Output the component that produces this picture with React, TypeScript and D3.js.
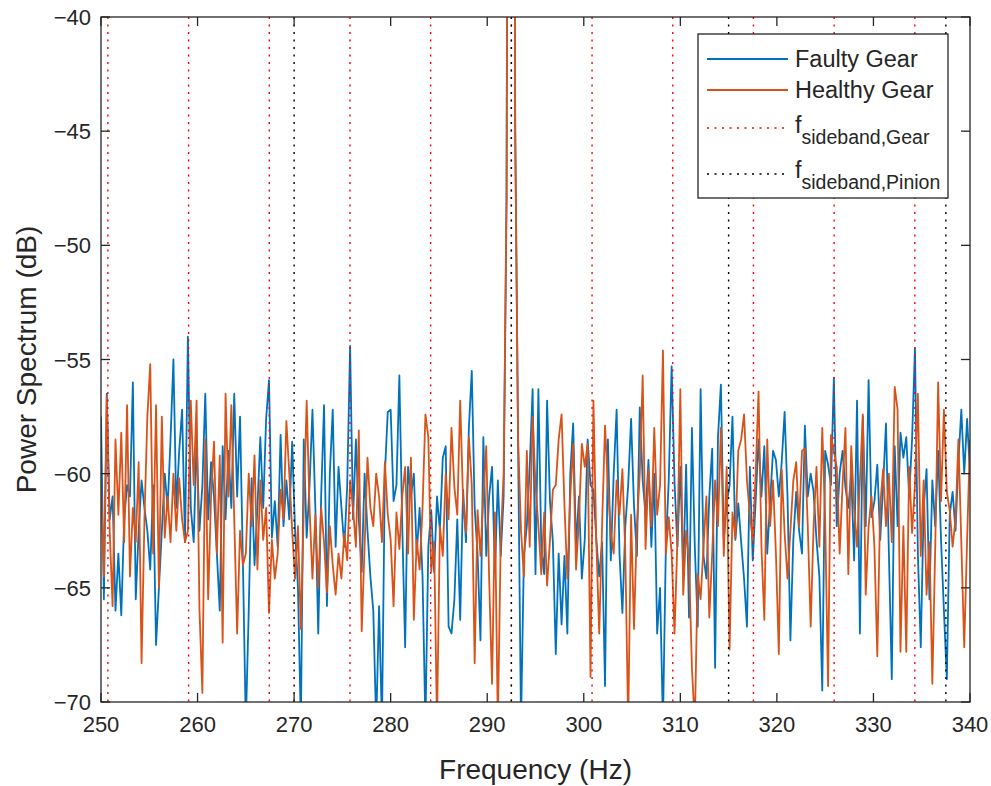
import React from 'react';
import * as d3 from 'd3';

const F_START = 250;
const F_STEP = 0.3;

const faultyGear = [
  -57.5, -65.5, -56.5, -62, -61, -66.0, -63.5, -66.2, -62, -60.5,
  -61, -56.0, -65.5, -62.5, -60.3, -61.5, -62.5, -64.2, -60.5, -67.5,
  -65.0, -62.5, -60.0, -61.5, -58.5, -55.0, -61.5, -59.0, -57.2, -63.0,
  -54.0, -61.5, -63, -58.5, -62.5, -60.5, -56.5, -62.0, -59.5, -61.0,
  -63.5, -66.0, -58.8, -62.0, -59.0, -61.5, -56.5, -61.0, -57.5, -64.0,
  -71.0, -66.0, -60.2, -64.0, -61.5, -58.4, -61.5, -57.6, -55.9, -62.8,
  -61.2, -63.2, -58.3, -62.3, -60.3, -62.0, -58.6, -62.5, -65.0, -71.0,
  -58.5, -62.8, -60.5, -57.2, -61.5, -67.0, -61.0, -57.0, -65.8, -60.0,
  -57.2, -63.2, -59.7, -61.5, -63.2, -60.5, -54.4, -62.0, -58.5, -62.0,
  -64.3, -60.0, -62.5, -64.5, -66.0, -71.0, -65.8, -71.0, -60.0, -57.3,
  -57.2, -61.2, -60.5, -55.7, -62.3, -67.6, -59.7, -61.0, -60.0, -63.5,
  -61.5, -64.5, -71.0, -63.2, -61.6, -64.3, -61.0, -62.5, -59.3, -58.8,
  -66.7, -67.0, -65.5, -62.0, -66.4, -60.7, -63.0, -58.0, -55.5, -61.5,
  -63.5, -67.3, -58.4, -63.6, -61.0, -59.7, -64.3, -60.3, -63.6, -61.0,
  -48, 0, 0, -45, -58.9, -71.0, -63.6, -62.3, -59.7, -56.3,
  -64.4, -56.3, -63.2, -64.4, -56.8, -61.2, -63.0, -67.9, -63.5, -66.6,
  -63.6, -67.0, -60.0, -57.8, -63.2, -61.0, -64.6, -62.9, -58.5, -60.5,
  -60.7, -62.9, -64.5, -63.0, -69.3, -58.5, -63.8, -60.0, -57.2, -63.5,
  -66.1, -62.3, -60.5, -57.6, -61.4, -63.6, -57.1, -60.3, -61.8, -59.4,
  -63.2, -60.0, -67.0, -65.0, -71.0, -63.2, -60.3, -55.3, -60.4, -63.2,
  -59.7, -64.4, -59.6, -66.3, -58.0, -63.2, -66.7, -56.3, -63.6, -64.6,
  -61.0, -58.9, -68.5, -58.4, -56.1, -62.9, -61.3, -60.5, -57.5, -62.9,
  -61.3, -63.0, -64.6, -66.7, -59.7, -63.8, -61.2, -58.5, -61.0, -58.8,
  -63.5, -61.2, -59.0, -59.4, -61.0, -59.5, -57.3, -61.0, -67.3, -62.9,
  -60.8, -62.5, -63.5, -57.9, -61.0, -60.0, -60.8, -62.9, -64.5, -69.5,
  -59.0, -59.6, -60.5, -55.8, -62.3, -60.0, -59.0, -60.6, -61.5, -60.0,
  -63.8, -56.8, -67.0, -57.5, -62.3, -55.9, -61.9, -61.2, -59.6, -62.9,
  -60.5, -57.8, -63.5, -69.0, -58.8, -62.3, -58.2, -59.3, -58.4, -61.0,
  -58.5, -54.5, -63.5, -67.6, -61.5, -59.8, -65.5, -60.3, -62.3, -59.0,
  -62.9, -66.0, -69.0, -61.8, -60.8, -62.5, -59.5, -57.2, -60.0, -57.6,
  -60.0,
];

const healthyGear = [
  -60.5, -64.5, -56.6, -62.5, -65.8, -58.5, -61.8, -58.2, -63.0, -57.0,
  -64.5, -61.5, -63.0, -59.5, -68.3, -62.0, -57.5, -55.2, -63.5, -57.0,
  -65.0, -57.5, -62.8, -61.0, -63.0, -60.0, -62.5, -60.2, -62.0, -63.0,
  -62.5, -56.8, -60.5, -56.8, -66.0, -69.6, -58.5, -65.5, -61.0, -58.6,
  -63.5, -59.2, -67.4, -56.5, -61.0, -57.0, -62.0, -67.0, -62.5, -64.0,
  -63.5, -60.0, -62.3, -59.2, -64.2, -60.3, -62.9, -61.5, -66.1, -62.9,
  -64.6, -63.5, -60.7, -62.0, -57.7, -60.0, -62.5, -64.6, -62.3, -66.8,
  -61.5, -56.8, -61.5, -64.6, -61.8, -65.0, -61.5, -63.0, -65.2, -62.3,
  -64.0, -65.3, -63.5, -64.6, -62.6, -63.8, -60.3, -61.5, -63.2, -58.1,
  -66.9, -63.2, -59.3, -61.5, -62.3, -60.0, -61.0, -63.0, -59.5, -61.8,
  -62.9, -65.8, -61.7, -63.3, -61.0, -59.7, -63.5, -59.3, -66.4, -62.9,
  -64.2, -61.5, -57.4, -58.4, -64.3, -63.0, -71.0, -62.3, -63.6, -60.0,
  -62.0, -58.0, -60.6, -61.8, -56.8, -61.2, -62.6, -58.4, -60.5, -68.3,
  -61.6, -63.6, -61.0, -58.8, -64.6, -69.2, -61.7, -71.0, -62.9, -60.0,
  -48, 0, 0, -45, -58.5, -62.5, -64.5, -59.0, -63.2, -57.5,
  -60.5, -62.3, -64.4, -61.7, -64.9, -62.9, -60.7, -60.5, -58.5, -57.4,
  -61.4, -64.6, -61.0, -58.7, -64.2, -62.0, -58.7, -59.7, -58.7, -68.9,
  -56.8, -63.0, -67.0, -62.2, -57.9, -60.5, -62.6, -63.5, -60.3, -61.8,
  -59.8, -63.5, -71.0, -61.8, -66.8, -62.3, -60.0, -55.7, -63.3, -59.8,
  -62.3, -58.0, -61.8, -60.5, -54.6, -63.5, -61.9, -63.5, -67.0, -62.9,
  -56.3, -65.3, -62.5, -63.8, -68.5, -71.0, -64.4, -65.5, -63.2, -61.0,
  -66.3, -63.5, -60.3, -62.3, -58.0, -63.6, -59.7, -67.7, -61.7, -62.8,
  -59.0, -58.5, -57.4, -60.3, -61.8, -62.9, -60.0, -56.4, -63.2, -66.4,
  -58.5, -62.3, -60.3, -63.5, -67.9, -59.8, -62.6, -64.6, -62.5, -60.3,
  -59.5, -62.3, -59.0, -58.9, -62.3, -66.7, -62.3, -59.7, -63.2, -58.0,
  -62.0, -69.3, -58.3, -59.0, -59.7, -63.5, -60.5, -58.0, -64.4, -58.8,
  -61.5, -63.2, -60.3, -57.4, -65.3, -62.3, -61.0, -63.2, -68.0, -61.4,
  -59.8, -62.3, -60.0, -63.0, -56.2, -57.2, -67.8, -62.3, -67.8, -59.7,
  -62.6, -60.5, -56.5, -63.6, -60.3, -65.3, -63.0, -69.2, -63.2, -56.0,
  -61.2, -57.2, -60.8, -61.6, -63.2, -62.0, -58.5, -63.0, -67.6, -62.9,
  -58.5,
];

const gearSidebands = [250.714, 259.071, 267.429, 275.786, 284.143, 292.5, 300.857, 309.214, 317.571, 325.929, 334.286];
const pinionSidebands = [270.0, 292.5, 315.0, 337.5];

const xTicks = [250, 260, 270, 280, 290, 300, 310, 320, 330, 340];
const yTicks = [-70, -65, -60, -55, -50, -45, -40];

const W = 991;
const H = 786;
const L = 101, R = 970, T = 17, B = 702;
const AX = '#262626';
const FONT = '"Liberation Sans", Arial, Helvetica, sans-serif';

const fmtY = (t: number) => (t < 0 ? '\u2212' + Math.abs(t) : String(t));

export default function App() {
  const x = d3.scaleLinear().domain([250, 340]).range([L, R]);
  const y = d3.scaleLinear().domain([-70, -40]).range([B, T]);
  const line = d3
    .line<number>()
    .x((_, i) => x(F_START + i * F_STEP))
    .y((d) => y(d));
  const tick = 9;

  return (
    <svg width={W} height={H} style={{ position: 'absolute', left: 0, top: 0, background: '#fff' }} fontFamily={FONT}>
      <defs>
        <clipPath id="plotclip">
          <rect x={L} y={T} width={R - L} height={B - T} />
        </clipPath>
      </defs>
      <rect x={0} y={0} width={W} height={H} fill="#fff" />
      <g clipPath="url(#plotclip)">
        <path d={line(faultyGear) || ''} fill="none" stroke="#0072BD" strokeWidth={1.8} strokeLinejoin="round" />
        <path d={line(healthyGear) || ''} fill="none" stroke="#D95319" strokeWidth={1.8} strokeLinejoin="round" />
        {gearSidebands.map((f, i) => (
          <line key={'g' + i} x1={x(f)} x2={x(f)} y1={T} y2={B} stroke="#ff0000" strokeWidth={1.4} strokeDasharray="2,5.5" />
        ))}
        {pinionSidebands.map((f, i) => (
          <line key={'p' + i} x1={x(f)} x2={x(f)} y1={T} y2={B} stroke="#000" strokeWidth={1.4} strokeDasharray="2,5.5" />
        ))}
      </g>
      <rect x={L} y={T} width={R - L} height={B - T} fill="none" stroke={AX} strokeWidth={1.3} />
      {xTicks.map((t) => (
        <g key={'xt' + t}>
          <line x1={x(t)} x2={x(t)} y1={B} y2={B - tick} stroke={AX} strokeWidth={1.3} />
          <line x1={x(t)} x2={x(t)} y1={T} y2={T + tick} stroke={AX} strokeWidth={1.3} />
          <text x={x(t)} y={B + 30} textAnchor="middle" fontSize={22} fill={AX}>{t}</text>
        </g>
      ))}
      {yTicks.map((t) => (
        <g key={'yt' + t}>
          <line x1={L} x2={L + tick} y1={y(t)} y2={y(t)} stroke={AX} strokeWidth={1.3} />
          <line x1={R} x2={R - tick} y1={y(t)} y2={y(t)} stroke={AX} strokeWidth={1.3} />
          <text x={L - 10} y={y(t) + 8} textAnchor="end" fontSize={22} fill={AX}>{fmtY(t)}</text>
        </g>
      ))}
      <text x={(L + R) / 2} y={779} textAnchor="middle" fontSize={28} fill={AX}>Frequency (Hz)</text>
      <text transform={`translate(36, ${(T + B) / 2}) rotate(-90)`} textAnchor="middle" fontSize={28} fill={AX}>Power Spectrum (dB)</text>

      <g>
        <rect x={698} y={34} width={250} height={164} fill="#fff" stroke={AX} strokeWidth={1.3} />
        <line x1={707} x2={788} y1={59} y2={59} stroke="#0072BD" strokeWidth={1.8} />
        <text x={795} y={67} fontSize={23.5} fill={AX}>Faulty Gear</text>
        <line x1={707} x2={788} y1={90} y2={90} stroke="#D95319" strokeWidth={1.8} />
        <text x={795} y={98} fontSize={23.5} fill={AX}>Healthy Gear</text>
        <line x1={707} x2={788} y1={128} y2={128} stroke="#ff0000" strokeWidth={1.4} strokeDasharray="2,5.5" />
        <text x={795} y={133} fontSize={23.5} fill={AX}>
          f<tspan dy={11} fontSize={19.5}>sideband,Gear</tspan>
        </text>
        <line x1={707} x2={788} y1={174} y2={174} stroke="#000" strokeWidth={1.4} strokeDasharray="2,5.5" />
        <text x={795} y={178} fontSize={23.5} fill={AX}>
          f<tspan dy={11} fontSize={19.5}>sideband,Pinion</tspan>
        </text>
      </g>
    </svg>
  );
}
